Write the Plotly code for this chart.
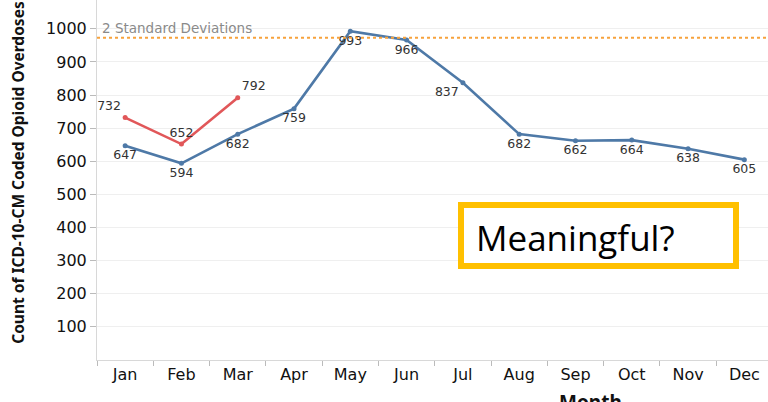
import plotly.graph_objects as go

months = ["Jan", "Feb", "Mar", "Apr", "May", "Jun", "Jul", "Aug", "Sep", "Oct", "Nov", "Dec"]
prior_year = [647, 594, 682, 759, 993, 966, 837, 682, 662, 664, 638, 605]
current_months = ["Jan", "Feb", "Mar"]
current_year = [732, 652, 792]
std_line = 973
y_ticks = [100, 200, 300, 400, 500, 600, 700, 800, 900, 1000]

blue = "#4e79a7"
red = "#e15759"

blue_pos = ["bottom center", "bottom center", "bottom center", "bottom center", "bottom center",
            "bottom center", "bottom left", "bottom center", "bottom center", "bottom center",
            "bottom center", "bottom center"]
red_pos = ["top left", "top center", "top right"]

label_font = dict(family="DejaVu Sans", size=12.5, color="#333333")

fig = go.Figure()
fig.add_trace(go.Scatter(
    x=months, y=prior_year, mode="lines+markers+text",
    line=dict(color=blue, width=2.6), marker=dict(size=5, color=blue),
    text=[str(v) for v in prior_year], textposition=blue_pos,
    textfont=label_font, cliponaxis=False, showlegend=False))
fig.add_trace(go.Scatter(
    x=current_months, y=current_year, mode="lines+markers+text",
    line=dict(color=red, width=2.6), marker=dict(size=5, color=red),
    text=[str(v) for v in current_year], textposition=red_pos,
    textfont=label_font, cliponaxis=False, showlegend=False))

fig.add_shape(type="line", xref="paper", yref="y", x0=0, x1=1, y0=std_line, y1=std_line,
              line=dict(color="#f7a23c", width=2, dash="dot"))
fig.add_annotation(xref="paper", yref="y", x=0.005, y=std_line, yshift=0, text="2 Standard Deviations",
                   showarrow=False, xanchor="left", yanchor="bottom",
                   font=dict(family="DejaVu Sans", size=13.5, color="#8a8a8a"))

# Meaningful box
fig.add_shape(type="rect", xref="paper", yref="paper",
              x0=(461 - 97) / 671, x1=(736 - 97) / 671,
              y0=(360 - 266) / 360, y1=(360 - 205) / 360,
              line=dict(color="#ffc000", width=6), fillcolor="white")
fig.add_annotation(xref="paper", yref="paper", x=(474 - 97) / 671, y=(360 - 237) / 360,
                   text="Meaningful?", showarrow=False, xanchor="left", yanchor="middle",
                   font=dict(family="Open Sans", size=35, color="#000000"))

fig.add_annotation(xref="paper", yref="paper", x=-79 / 671, y=0.52,
                   text="<b>Count of ICD-10-CM Coded Opioid Overdoses</b>", textangle=-90,
                   showarrow=False, xanchor="center", yanchor="middle",
                   font=dict(family="Noto Sans", size=15.5, color="#111111"))
fig.add_annotation(xref="paper", yref="paper", x=(590 - 97) / 671, y=-27 / 360,
                   text="<b>Month</b>", showarrow=False, xanchor="center", yanchor="top",
                   font=dict(family="Noto Sans", size=19, color="#111111"))

fig.update_layout(
    width=768, height=402,
    margin=dict(l=97, r=0, t=0, b=42, autoexpand=False),
    plot_bgcolor="white", paper_bgcolor="white",
    font=dict(family="DejaVu Sans", color="#222222"),
    xaxis=dict(type="category", categoryorder="array", categoryarray=months,
               range=[-0.5, 11.42], showgrid=False, ticks="outside", tickson="boundaries",
               ticklen=5, tickcolor="#bbbbbb", showline=True, linecolor="#d8d8d8",
               automargin=False,
               tickfont=dict(family="DejaVu Sans", size=16, color="#111111"), fixedrange=True),
    yaxis=dict(range=[0, 1087], tickvals=y_ticks, showgrid=True, gridcolor="#efefef",
               zeroline=False, ticks="outside", ticklen=6, tickcolor="#bbbbbb",
               showline=True, linecolor="#d8d8d8", automargin=False,
               tickfont=dict(family="DejaVu Sans", size=16, color="#111111")),
)

fig.write_html("out.html", config={"displayModeBar": False},
               post_script="document.body.style.margin='0';document.body.style.overflow='hidden';")
